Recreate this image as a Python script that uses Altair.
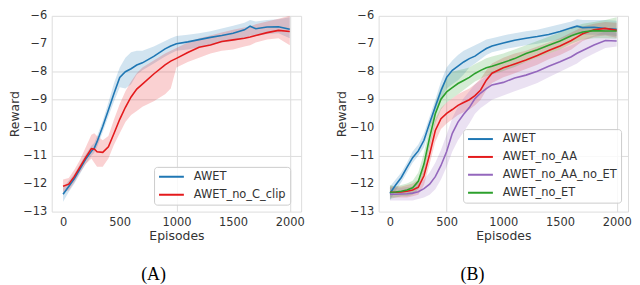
import altair as alt
import pandas as pd

# ---------------- data ----------------
X_TICKS = [0, 500, 1000, 1500, 2000]
Y_TICKS = [-13, -12, -11, -10, -9, -8, -7, -6]

EPS_A = [0, 50, 100, 150, 200, 250, 275, 300, 350, 400, 450, 500, 550, 600, 650, 700,
         800, 900, 950, 1000, 1100, 1200, 1300, 1400, 1500, 1600, 1650, 1700, 1800, 1900, 2000]
A_AWET_MEAN = [-12.38, -12.10, -11.82, -11.47, -11.12, -10.84, -10.74, -10.50, -9.96, -9.37, -8.77,
               -8.20, -8.00, -7.89, -7.76, -7.68, -7.45, -7.18, -7.08, -7.00, -6.93, -6.85, -6.77,
               -6.70, -6.62, -6.50, -6.37, -6.46, -6.40, -6.39, -6.48]
A_AWET_LO = [-12.65, -12.30, -12.00, -11.65, -11.30, -11.00, -10.90, -10.70, -10.15, -9.60, -9.05,
             -8.55, -8.60, -8.45, -8.10, -7.95, -7.70, -7.45, -7.35, -7.25, -7.20, -7.12, -7.05,
             -6.95, -6.90, -6.80, -6.70, -6.72, -6.65, -6.62, -6.80]
A_AWET_HI = [-12.15, -11.90, -11.65, -11.30, -10.95, -10.65, -10.55, -10.30, -9.75, -9.10, -8.40,
             -7.85, -7.50, -7.30, -7.25, -7.25, -7.10, -6.90, -6.80, -6.72, -6.68, -6.62, -6.55,
             -6.45, -6.35, -6.25, -6.15, -6.20, -6.15, -6.12, -6.05]
A_NOC_MEAN = [-12.09, -12.02, -11.74, -11.40, -11.06, -10.75, -10.76, -10.86, -10.88, -10.68, -10.20,
              -9.70, -9.27, -8.90, -8.62, -8.44, -8.08, -7.75, -7.62, -7.52, -7.31, -7.12, -7.04,
              -6.92, -6.86, -6.80, -6.76, -6.70, -6.60, -6.52, -6.56]
A_NOC_LO = [-12.30, -12.25, -11.95, -11.60, -11.30, -11.10, -11.25, -11.40, -11.40, -11.10, -10.60,
            -10.20, -9.80, -9.55, -9.40, -9.25, -9.05, -8.80, -8.60, -7.85, -7.65, -7.50, -7.35,
            -7.25, -7.20, -7.10, -7.05, -6.95, -6.85, -6.80, -7.05]
A_NOC_HI = [-11.85, -11.80, -11.50, -11.15, -10.70, -10.25, -10.20, -10.30, -10.45, -10.30, -9.70,
            -9.15, -8.70, -8.35, -8.05, -7.85, -7.60, -7.35, -7.25, -7.15, -6.95, -6.80, -6.70,
            -6.60, -6.50, -6.42, -6.38, -6.30, -6.20, -6.10, -6.00]

EPS_B = [0, 50, 100, 150, 200, 250, 300, 350, 400, 450, 500, 550, 600, 650, 700, 750, 800,
         850, 900, 1000, 1100, 1200, 1300, 1400, 1500, 1600, 1650, 1700, 1800, 1900, 2000]
B_AWET_MEAN = [-12.35, -12.05, -11.78, -11.42, -11.07, -10.83, -10.45, -9.83, -9.25, -8.68, -8.20,
               -7.95, -7.80, -7.65, -7.53, -7.44, -7.30, -7.17, -7.08, -6.97, -6.87, -6.80, -6.74,
               -6.67, -6.56, -6.43, -6.37, -6.42, -6.41, -6.45, -6.48]
B_AWET_LO = [-12.60, -12.25, -11.95, -11.60, -11.25, -11.00, -10.70, -10.05, -9.50, -9.00, -8.60,
             -8.45, -8.30, -8.10, -7.85, -7.70, -7.55, -7.40, -7.30, -7.20, -7.12, -7.05, -7.00,
             -6.92, -6.85, -6.72, -6.65, -6.68, -6.68, -6.68, -6.72]
B_AWET_HI = [-12.10, -11.85, -11.60, -11.25, -10.85, -10.60, -10.20, -9.60, -9.00, -8.35, -7.85,
             -7.60, -7.40, -7.25, -7.15, -7.05, -6.95, -6.85, -6.80, -6.70, -6.62, -6.55, -6.50,
             -6.40, -6.30, -6.20, -6.12, -6.15, -6.15, -6.15, -6.18]
B_NOAA_MEAN = [-12.31, -12.31, -12.30, -12.27, -12.23, -12.13, -11.72, -10.95, -10.10, -9.68, -9.49,
               -9.35, -9.20, -9.10, -9.00, -8.85, -8.65, -8.30, -8.05, -7.86, -7.72, -7.58, -7.42,
               -7.24, -7.08, -6.88, -6.76, -6.64, -6.50, -6.45, -6.52]
B_NOAA_LO = [-12.50, -12.50, -12.50, -12.50, -12.45, -12.40, -12.05, -11.30, -10.50, -10.05, -9.85,
             -9.70, -9.55, -9.45, -9.35, -9.20, -9.00, -8.65, -8.40, -8.20, -8.05, -7.90, -7.75,
             -7.55, -7.40, -7.20, -7.05, -6.90, -6.75, -6.70, -6.78]
B_NOAA_HI = [-12.10, -12.10, -12.10, -12.05, -12.00, -11.85, -11.35, -10.55, -9.70, -9.30, -9.10,
             -8.95, -8.80, -8.70, -8.60, -8.45, -8.25, -7.95, -7.70, -7.50, -7.35, -7.25, -7.10,
             -6.95, -6.80, -6.60, -6.50, -6.38, -6.28, -6.22, -6.25]
B_NOAANOET_MEAN = [-12.38, -12.38, -12.37, -12.36, -12.34, -12.29, -12.18, -12.02, -11.75, -11.35,
                   -10.85, -10.20, -9.80, -9.52, -9.28, -8.96, -8.76, -8.60, -8.47, -8.38, -8.22,
                   -8.12, -7.98, -7.80, -7.64, -7.46, -7.34, -7.24, -7.04, -6.88, -6.90]
B_NOAANOET_LO = [-12.60, -12.60, -12.60, -12.60, -12.60, -12.55, -12.50, -12.40, -12.20, -11.85,
                 -11.40, -10.85, -10.45, -10.15, -9.85, -9.50, -9.30, -9.15, -9.00, -8.85, -8.70,
                 -8.55, -8.40, -8.20, -8.00, -7.80, -7.70, -7.55, -7.35, -7.15, -7.10]
B_NOAANOET_HI = [-12.15, -12.15, -12.15, -12.12, -12.10, -12.00, -11.85, -11.60, -11.25, -10.80,
                 -10.25, -9.65, -9.25, -8.95, -8.70, -8.45, -8.30, -8.15, -8.00, -7.90, -7.75,
                 -7.65, -7.50, -7.35, -7.20, -7.05, -6.95, -6.85, -6.70, -6.55, -6.60]
B_NOET_MEAN = [-12.31, -12.30, -12.27, -12.23, -12.15, -11.92, -11.30, -10.35, -9.50, -8.98, -8.72,
               -8.57, -8.42, -8.31, -8.20, -8.06, -7.95, -7.86, -7.80, -7.67, -7.53, -7.35, -7.21,
               -7.05, -6.90, -6.71, -6.64, -6.58, -6.53, -6.54, -6.54]
B_NOET_LO = [-12.55, -12.50, -12.45, -12.45, -12.40, -12.20, -11.65, -10.70, -9.85, -9.35, -9.10,
             -8.95, -8.80, -8.65, -8.50, -8.35, -8.25, -8.15, -8.10, -7.97, -7.83, -7.65, -7.50,
             -7.35, -7.20, -7.00, -6.92, -6.85, -6.80, -6.80, -6.82]
B_NOET_HI = [-12.05, -12.10, -12.05, -12.00, -11.90, -11.60, -10.90, -9.95, -9.10, -8.55, -8.20,
             -8.00, -7.95, -7.90, -7.85, -7.72, -7.62, -7.52, -7.45, -7.35, -7.20, -7.05, -6.90,
             -6.75, -6.60, -6.42, -6.35, -6.28, -6.22, -6.15, -6.05]

NAMES_A = ["AWET", "AWET_no_C_clip"]
COLORS_A = ["#1f77b4", "#e41a1c"]
NAMES_B = ["AWET", "AWET_no_AA", "AWET_no_AA_no_ET", "AWET_no_ET"]
COLORS_B = ["#1f77b4", "#e41a1c", "#9467bd", "#2ca02c"]


def frame(eps, series):
    rows = []
    for name, m, lo, hi in series:
        for e, a, b, c in zip(eps, m, lo, hi):
            rows.append({"ep": e, "mean": a, "lo": b, "hi": c, "method": name})
    return pd.DataFrame(rows)


df_a = frame(EPS_A, [("AWET", A_AWET_MEAN, A_AWET_LO, A_AWET_HI),
                     ("AWET_no_C_clip", A_NOC_MEAN, A_NOC_LO, A_NOC_HI)])
df_b = frame(EPS_B, [("AWET", B_AWET_MEAN, B_AWET_LO, B_AWET_HI),
                     ("AWET_no_AA", B_NOAA_MEAN, B_NOAA_LO, B_NOAA_HI),
                     ("AWET_no_AA_no_ET", B_NOAANOET_MEAN, B_NOAANOET_LO, B_NOAANOET_HI),
                     ("AWET_no_ET", B_NOET_MEAN, B_NOET_LO, B_NOET_HI)])

TXT = "#333333"
FONT = "DejaVu Sans"


def panel(df, names, colors, xgrid, legend_xy, caption, cap_dx, w, h):
    xgrid_test = " || ".join(f"datum.value === {v}" for v in xgrid)
    x = alt.X("ep:Q", scale=alt.Scale(domain=[-100, 2100], nice=False, zero=False),
              axis=alt.Axis(values=X_TICKS, title="Episodes", ticks=False, domain=False,
                            grid=True, format="d",
                            gridOpacity={"condition": {"test": xgrid_test, "value": 1}, "value": 0},
                            labelFont=FONT, labelFontSize=11.5, labelColor=TXT, labelPadding=5,
                            labelFlush=False, labelOverlap=False,
                            titleFont=FONT, titleFontSize=12.5, titleFontWeight="normal",
                            titleColor=TXT, titlePadding=2))
    yax = alt.Axis(values=Y_TICKS, title="Reward", ticks=False, domain=False, grid=True,
                   format="d",
                   gridOpacity={"condition": {"test": "datum.value === -8 || datum.value === -9 || datum.value === -11",
                                              "value": 1}, "value": 0},
                   labelFont=FONT, labelFontSize=11.5, labelColor=TXT, labelPadding=5,
                   labelFlush=False, labelOverlap=False,
                   titleFont=FONT, titleFontSize=12.5, titleFontWeight="normal",
                   titleColor=TXT, titlePadding=1)
    yscale = alt.Scale(domain=[-13, -6], nice=False, zero=False)
    cscale = alt.Scale(domain=names, range=colors)
    legend = alt.Legend(
        title=None, orient="none", legendX=legend_xy[0], legendY=legend_xy[1],
        symbolType="stroke", symbolSize=625, symbolStrokeWidth=2, clipHeight=12,
        rowPadding=6, labelOffset=9, labelFont=FONT, labelFontSize=11.5, labelColor=TXT,
        padding=4, fillColor="rgba(255,255,255,0.8)", strokeColor="#cccccc",
        cornerRadius=3, labelLimit=300, symbolOpacity=1)
    base = alt.Chart(df)
    band = base.mark_area(opacity=0.2, clip=True).encode(
        x=x, y=alt.Y("lo:Q", scale=yscale, axis=yax), y2="hi:Q",
        color=alt.Color("method:N", scale=cscale, legend=legend))
    line = base.mark_line(strokeWidth=1.6, clip=True).encode(
        x=x, y=alt.Y("mean:Q", scale=yscale, axis=yax),
        color=alt.Color("method:N", scale=cscale, legend=legend))
    return alt.layer(band, line).properties(
        width=w, height=h,
        title=alt.TitleParams(caption, orient="bottom", font="Liberation Serif", fontSize=18,
                              fontWeight="normal", color="black", offset=24, dx=cap_dx))


pa = panel(df_a, NAMES_A, COLORS_A, [1000, 2000], (103, 152), "(A)", -23, 251, 197)
pb = panel(df_b, NAMES_B, COLORS_B, [500, 2000], (85, 114), "(B)", -31, 251, 197)

chart = alt.hconcat(pa, pb, spacing=30).resolve_scale(color="independent").resolve_legend(
    color="independent").properties(
    padding={"top": 0, "left": 0, "right": 0, "bottom": 0}
).configure_view(stroke="#cccccc", strokeWidth=1).configure_axis(
    gridColor="#cccccc", gridWidth=1).configure(background="white")

chart.save("out.html", embed_options={"renderer": "svg", "actions": False})
